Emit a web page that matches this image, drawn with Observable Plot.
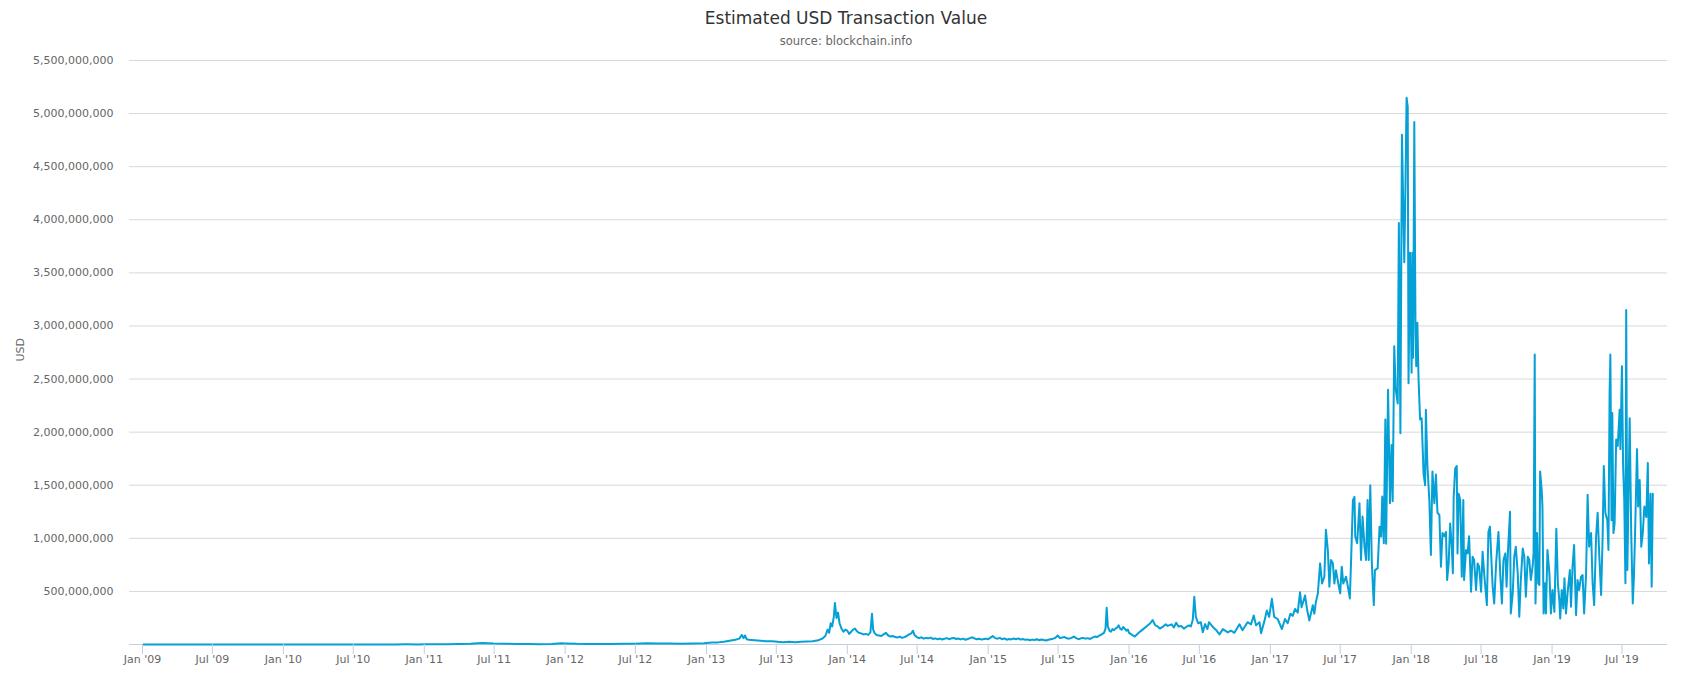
<!DOCTYPE html>
<html><head><meta charset="utf-8">
<script src="https://cdn.jsdelivr.net/npm/d3@7"></script>
<script src="https://cdn.jsdelivr.net/npm/@observablehq/plot@0.6"></script>
<style>
body{margin:0;background:#fff;font-family:"DejaVu Sans",sans-serif;}
#wrap{position:relative;width:1692px;height:684px;}
#head{position:relative;height:50px;}
#title{position:absolute;left:0;width:1692px;top:9.6px;text-align:center;font-size:17px;line-height:17px;color:#333;white-space:nowrap;}
#sub{position:absolute;left:0;width:1692px;top:36px;text-align:center;font-size:11.5px;line-height:11.5px;color:#666;white-space:nowrap;}
</style></head><body>
<div id="wrap"><div id="head"><div id="title">Estimated USD Transaction Value</div><div id="sub">source: blockchain.info</div></div><div id="chart"></div></div>
<script>
// Day-of-year offsets and estimated USD transaction value (millions of USD)
const days2009 = [2, 30, 60, 90, 120, 150, 180, 210, 240, 270, 300, 330, 364];
const usd2009  = [0, 0, 0, 0, 0, 0, 0, 0, 0, 0, 0, 0, 0];
const days2010 = [0, 60, 120, 180, 200, 230, 260, 290, 320, 350];
const usd2010  = [0, 0, 0, 0.05, 0.2, 0.3, 0.3, 0.8, 1.5, 1.0];
const days2011 = [0, 30, 60, 90, 120, 150, 165, 180, 210, 240, 270, 300, 330, 355];
const usd2011  = [1.5, 3, 2, 4, 8, 15, 12, 9, 7, 5, 4, 3, 4, 12];
const days2012 = [0, 30, 60, 90, 120, 150, 180, 210, 240, 270, 300, 330, 360];
const usd2012  = [10, 6, 5, 5, 5, 6, 8, 12, 10, 9, 8, 9, 12];
const days2013 = [0, 15, 30, 45, 60, 75, 85, 92, 96, 100, 104, 110, 125, 140, 155, 170, 185, 200, 215, 230, 245, 260, 275, 290, 300, 308, 314, 318, 322, 326, 330, 333, 337, 341, 345, 350, 355, 360];
const usd2013  = [15, 18, 20, 25, 35, 45, 55, 90, 60, 85, 50, 45, 40, 35, 30, 30, 25, 22, 25, 22, 25, 28, 30, 40, 55, 80, 140, 110, 200, 170, 260, 390, 250, 300, 200, 150, 120, 140];
const days2014 = [0, 5, 10, 15, 20, 25, 30, 36, 42, 48, 54, 60, 64, 67, 71, 76, 82, 88, 94, 100, 106, 112, 118, 124, 130, 136, 142, 148, 154, 160, 166, 170, 174, 180, 186, 192, 198, 204, 210, 216, 222, 228, 234, 240, 246, 252, 258, 264, 270, 276, 282, 288, 294, 300, 306, 312, 318, 324, 330, 336, 342, 348, 354, 360];
const usd2014  = [130, 100, 120, 140, 150, 125, 110, 105, 95, 100, 90, 115, 290, 140, 105, 90, 85, 80, 95, 110, 85, 75, 80, 70, 65, 75, 62, 70, 80, 95, 105, 130, 90, 70, 60, 68, 55, 62, 58, 65, 52, 58, 50, 56, 47, 55, 60, 50, 58, 62, 52, 56, 48, 55, 45, 52, 60, 68, 56, 50, 55, 46, 52, 55];
const days2015 = [0, 6, 12, 18, 24, 30, 36, 42, 48, 54, 60, 66, 72, 78, 84, 90, 96, 102, 108, 114, 120, 126, 132, 138, 144, 150, 156, 162, 168, 174, 180, 186, 192, 198, 204, 210, 216, 222, 228, 234, 240, 246, 252, 258, 264, 270, 276, 282, 288, 292, 296, 300, 304, 307, 310, 314, 318, 322, 326, 330, 334, 338, 342, 346, 350, 354, 358, 362];
const usd2015  = [50, 65, 80, 60, 55, 62, 50, 58, 45, 52, 48, 56, 50, 58, 46, 52, 44, 48, 40, 46, 42, 50, 40, 47, 43, 38, 45, 50, 55, 62, 85, 60, 66, 70, 58, 55, 62, 75, 60, 50, 58, 62, 55, 60, 52, 64, 75, 70, 85, 90, 100, 110, 150, 345, 170, 130, 120, 145, 135, 150, 160, 180, 150, 140, 165, 150, 130, 140];
const days2016 = [0, 8, 15, 25, 35, 45, 55, 61, 68, 74, 80, 87, 95, 100, 110, 116, 122, 128, 135, 142, 148, 155, 160, 165, 169, 173, 179, 186, 191, 197, 203, 207, 217, 226, 234, 243, 256, 264, 273, 286, 294, 307, 316, 323, 329, 338, 342, 351, 357, 363];
const usd2016  = [110, 90, 75, 110, 140, 170, 200, 230, 180, 170, 150, 165, 190, 175, 190, 160, 205, 170, 175, 150, 165, 180, 170, 230, 450, 260, 200, 210, 115, 192, 146, 210, 165, 135, 94, 145, 115, 130, 110, 190, 135, 210, 190, 273, 180, 210, 107, 225, 320, 260];
const days2017 = [4, 10, 19, 30, 38, 45, 52, 58, 64, 71, 77, 81, 90, 95, 101, 106, 110, 114, 118, 123, 129, 134, 140, 144, 149, 153, 157, 162, 166, 170, 176, 181, 185, 189, 196, 201, 206, 209, 214, 218, 220, 225, 231, 235, 239, 244, 248, 252, 255, 259, 263, 268, 271, 278, 283, 287, 290, 294, 298, 300, 305, 310, 314, 317, 321, 325, 330, 333, 337, 341, 343, 347, 350, 353, 356, 358, 362];
const usd2017  = [430, 260, 240, 146, 240, 200, 290, 270, 335, 300, 493, 350, 461, 335, 226, 305, 370, 290, 400, 477, 764, 575, 638, 1080, 890, 545, 795, 764, 575, 700, 575, 481, 733, 575, 638, 545, 434, 764, 1360, 1390, 1017, 953, 1330, 796, 1205, 922, 796, 1360, 796, 1500, 764, 371, 701, 717, 1110, 1017, 1393, 953, 2120, 950, 2400, 1330, 1880, 1350, 2810, 2400, 2270, 3970, 1990, 4800, 4410, 3600, 4290, 5150, 5060, 2460, 3690];
const days2018 = [1, 3, 5, 8, 11, 13, 16, 19, 23, 27, 32, 36, 38, 42, 47, 51, 55, 60, 64, 68, 73, 77, 81, 86, 90, 93, 97, 101, 105, 108, 110, 114, 118, 120, 123, 127, 131, 135, 137, 142, 146, 150, 155, 159, 163, 168, 172, 176, 181, 185, 189, 196, 200, 204, 207, 211, 215, 220, 226, 231, 235, 239, 244, 247, 251, 256, 258, 263, 267, 271, 276, 280, 284, 289, 293, 297, 302, 306, 310, 315, 317, 320, 322, 326, 329, 332, 334, 338, 340, 343, 347, 349, 353, 358, 362];
const usd2018  = [2560, 3690, 2700, 4920, 3030, 2620, 3030, 2500, 2120, 2130, 1610, 1500, 2210, 1680, 1360, 843, 1630, 1330, 1600, 1240, 1220, 733, 1050, 1020, 1060, 607, 764, 1140, 921, 670, 1390, 1660, 1680, 858, 1420, 1360, 638, 1360, 607, 890, 858, 1020, 497, 827, 796, 513, 764, 733, 497, 874, 670, 371, 1060, 1110, 858, 544, 387, 764, 1060, 638, 387, 796, 858, 544, 905, 1250, 292, 481, 827, 921, 670, 261, 607, 905, 827, 450, 827, 796, 607, 749, 858, 2730, 387, 1050, 576, 560, 1630, 1460, 1300, 292, 576, 292, 890, 670, 292];
const days2019 = [1, 6, 11, 15, 19, 21, 25, 29, 32, 36, 40, 46, 49, 53, 57, 62, 66, 70, 75, 79, 83, 88, 92, 96, 101, 105, 109, 114, 118, 122, 127, 131, 134, 138, 143, 146, 149, 151, 154, 156, 159, 162, 166, 170, 175, 177, 181, 184, 187, 190, 192, 195, 198, 201, 205, 209, 212, 215, 220, 223, 227, 231, 235, 239, 244, 248, 251, 255, 258, 261];
const usd2019  = [513, 308, 1090, 576, 403, 245, 513, 340, 623, 292, 481, 701, 355, 733, 937, 277, 607, 513, 638, 654, 292, 654, 1410, 921, 1050, 576, 371, 1020, 1240, 858, 466, 1020, 1680, 1240, 1170, 890, 2370, 2730, 1170, 2180, 1050, 1140, 1930, 1870, 2210, 1840, 2620, 1680, 1360, 576, 3150, 701, 1420, 2130, 1050, 387, 640, 1050, 1840, 1300, 1550, 921, 1050, 1300, 1200, 1710, 764, 1420, 544, 1420];

const yTicks = [5e8, 1e9, 1.5e9, 2e9, 2.5e9, 3e9, 3.5e9, 4e9, 4.5e9, 5e9, 5.5e9];
const xTickDates = ["2009-01-01","2009-07-01","2010-01-01","2010-07-01","2011-01-01","2011-07-01","2012-01-01","2012-07-01","2013-01-01","2013-07-01","2014-01-01","2014-07-01","2015-01-01","2015-07-01","2016-01-01","2016-07-01","2017-01-01","2017-07-01","2018-01-01","2018-07-01","2019-01-01","2019-07-01"];
const xTickLabels = ["Jan '09","Jul '09","Jan '10","Jul '10","Jan '11","Jul '11","Jan '12","Jul '12","Jan '13","Jul '13","Jan '14","Jul '14","Jan '15","Jul '15","Jan '16","Jul '16","Jan '17","Jul '17","Jan '18","Jul '18","Jan '19","Jul '19"];

const years = [
  [2009, days2009, usd2009], [2010, days2010, usd2010], [2011, days2011, usd2011],
  [2012, days2012, usd2012], [2013, days2013, usd2013], [2014, days2014, usd2014],
  [2015, days2015, usd2015], [2016, days2016, usd2016], [2017, days2017, usd2017],
  [2018, days2018, usd2018], [2019, days2019, usd2019]
];
const rows = [];
for (const [yr, ds, vs] of years) ds.forEach((d, i) => rows.push({date: new Date(Date.UTC(yr, 0, 1 + d)), value: vs[i] * 1e6}));

const xTicks = xTickDates.map(s => new Date(s + "T00:00:00Z"));
const labelOf = d => xTickLabels[xTicks.findIndex(t => +t === +d)];

const chart = Plot.plot({
  width: 1692, height: 634,
  marginTop: 10, marginBottom: 40, marginLeft: 129, marginRight: 25,
  style: {fontFamily: "'DejaVu Sans', sans-serif", fontSize: "11px", background: "#fff", overflow: "visible"},
  x: {type: "utc", domain: [new Date(Date.UTC(2008, 10, 28, 8)), new Date(Date.UTC(2019, 9, 27))]},
  y: {domain: [0, 5.5e9]},
  marks: [
    Plot.gridY({ticks: yTicks, stroke: "#d8d8d8", strokeOpacity: 1}),
    Plot.ruleY([0], {stroke: "#C0D0E0"}),
    Plot.line(rows, {x: "date", y: "value", stroke: "#05a0d6", strokeWidth: 2}),
    Plot.axisY({ticks: yTicks, tickSize: 0, tickPadding: 16, tickFormat: d3.format(","), fill: "#666", fontSize: 11, label: null}),
    Plot.axisX({ticks: xTicks, tickSize: 10, tickPadding: 1, stroke: "#C0D0E0", strokeOpacity: 1, fill: "#666", fontSize: 11, tickFormat: labelOf, label: null}),
    Plot.text(["USD"], {text: d => d, frameAnchor: "left", dx: -109, dy: 9, rotate: -90, fill: "#666", fontSize: 11})
  ]
});
document.getElementById("chart").appendChild(chart);
</script>
</body></html>
